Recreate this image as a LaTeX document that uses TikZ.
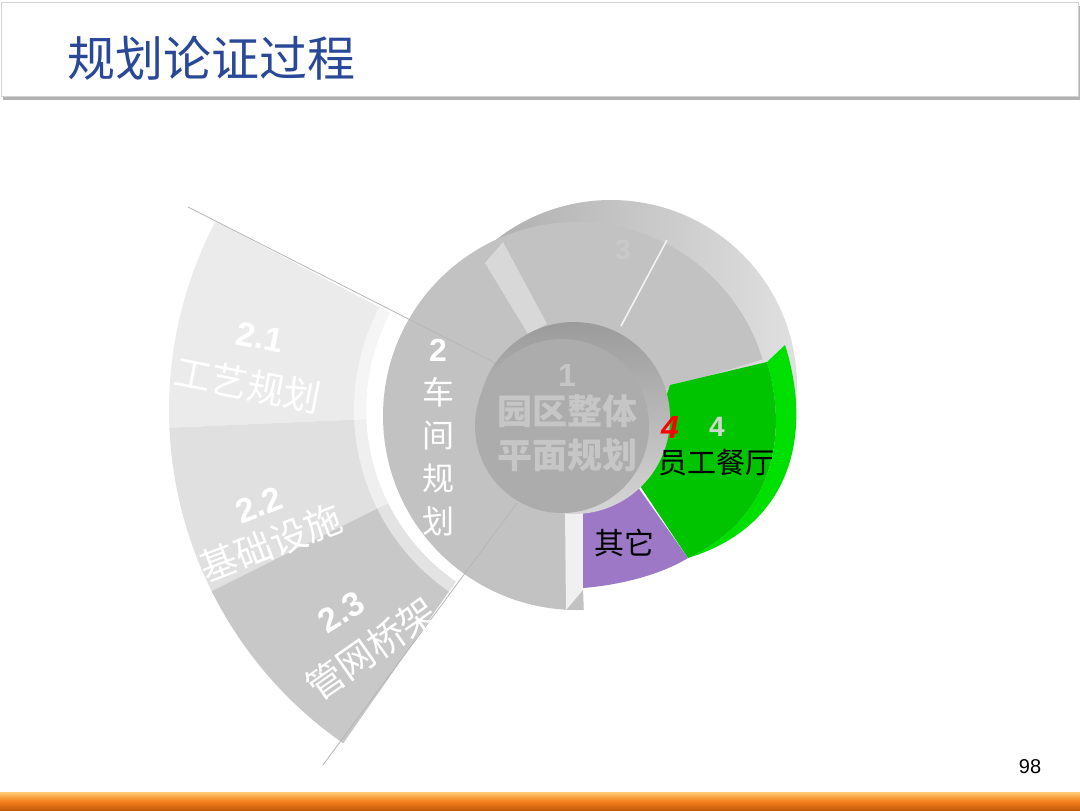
\documentclass[tikz,border=0pt]{standalone}
\usepackage{fontspec}
\newfontfamily\cjk{Noto Sans CJK SC}
\newfontfamily\arial{Liberation Sans}
\newcommand\fsz[1]{\fontsize{#1}{#1}\selectfont}

\definecolor{titleblue}{RGB}{41,72,152}
\definecolor{fanA}{RGB}{235,235,235}
\definecolor{fanB}{RGB}{224,224,224}
\definecolor{fanC}{RGB}{200,200,200}
\definecolor{faceg}{RGB}{194,194,194}
\definecolor{rimdark}{RGB}{165,165,165}
\definecolor{rimlight}{RGB}{224,224,224}
\definecolor{hubface}{RGB}{172,172,172}
\definecolor{hubtop}{RGB}{155,155,155}
\definecolor{hubbot}{RGB}{214,214,214}
\definecolor{hubtext}{RGB}{198,198,198}
\definecolor{stripg}{RGB}{216,216,216}
\definecolor{greenface}{RGB}{0,196,0}
\definecolor{greenrim}{RGB}{0,224,0}
\definecolor{lilac}{RGB}{156,120,198}
\definecolor{divline}{RGB}{182,182,182}
\definecolor{numgray}{RGB}{205,215,205}
\definecolor{faint}{RGB}{201,201,201}
\definecolor{orangetop}{RGB}{255,205,120}
\definecolor{orangemid}{RGB}{246,130,30}
\definecolor{orangebot}{RGB}{196,90,10}

\tikzset{
  fanlbl/.style={text=white, font=\cjk\fsz{18.5pt}, inner sep=0pt},
  fannum/.style={text=white, font=\arial\bfseries\fsz{17pt}, inner sep=0pt},
  hublbl/.style={text=hubtext, font=\cjk\bfseries\fsz{17.5pt}, inner sep=0pt},
  darklbl/.style={text=black, font=\cjk\fsz{14.5pt}, inner sep=0pt},
  divider/.style={draw=divline, line width=0.4pt},
}

\begin{document}
\begin{tikzpicture}[x=0.5pt,y=-0.5pt]
  \useasboundingbox (0,0) rectangle (1080,810);
  \fill[white] (0,0) rectangle (1080,810);
  \fill[gray!60] (3,6) rectangle (1080,100);
  \filldraw[draw=gray!35, fill=white] (1,2) rectangle (1078,96);
  \node[font=\cjk\fsz{24pt}, text=titleblue, inner sep=0pt] (title) at (211,58) {规划论证过程};
  \shade[top color=orangetop, bottom color=orangebot, middle color=orangemid] (0,792) rectangle (1080,810);
  \node[font=\arial\fsz{10pt}, inner sep=0pt] (pageno) at (1030,767) {98};

  \begin{scope}[shift={(575,410)}]
    \fill[fanA] (-152.3:209) -- (-152.3:406) arc[start angle=-152.3, end angle=-182.5, radius=406] -- (-182.5:209) arc[start angle=-182.5, end angle=-152.3, radius=209] -- cycle;
    \fill[fanB] (-182.5:209) -- (-182.5:406) arc[start angle=-182.5, end angle=-206.5, radius=406] -- (-206.5:209) arc[start angle=-206.5, end angle=-182.5, radius=209] -- cycle;
    \fill[fanC] (-206.5:209) -- (-206.5:406) arc[start angle=-206.5, end angle=-235.2, radius=406] -- (-235.2:209) arc[start angle=-235.2, end angle=-206.5, radius=209] -- cycle;
    \fill[white, opacity=0.5] (-152.3:209) arc[start angle=-152.3, end angle=-235.2, radius=209] -- (-235.2:221) arc[start angle=-235.2, end angle=-152.3, radius=221] -- cycle;
  \end{scope}

  \begin{scope}
    \clip (380,190) rectangle (820,425);
    \shade[left color=rimdark, right color=rimlight] (611,386) circle[radius=186];
  \end{scope}
  \fill[faceg] (577,416) -- ++(88:194) arc[start angle=88, end angle=343, radius=194] -- cycle;
  \fill[stripg] (485,263) -- (503,242) -- (547,324) -- (528,334) -- cycle;
  \fill[white!88!gray] (565,512) -- (583,512) -- (583,590) -- (566,610) -- cycle;

  \coordinate (ulA) at (188,207);
  \coordinate (ulB) at (507,369);
  \coordinate (llA) at (323,765);
  \coordinate (llB) at (517,503);
  \coordinate (urA) at (667,240);
  \coordinate (urB) at (621,326);
  \draw[divider] (ulA) -- (ulB);
  \draw[divider] (llA) -- (llB);
  \draw[draw=white!90!gray, line width=0.8pt] (urA) -- (urB);

  \fill[greenrim] (767,362) -- (785,345) .. controls (812,430) and (795,525) .. (688,558) .. controls (770,520) and (790,440) .. (767,362) -- cycle;
  \fill[greenface] (670,385) -- (767,362) .. controls (790,440) and (770,520) .. (688,558) -- (638,483) -- cycle;
  \fill[lilac] (583,513) -- (583,588) .. controls (620,585) and (660,575) .. (688,558) -- (635,483) -- cycle;

  \shade[top color=hubtop, bottom color=hubbot] (574,418) circle[radius=96];
  \fill[hubface] (562,426) circle[radius=87];

  \node[hublbl, font=\arial\bfseries\fsz{16pt}] (hubnum) at (567,375) {1};
  \node[hublbl] (hubA) at (567,411) {园区整体};
  \node[hublbl] (hubB) at (567,455) {平面规划};
  \node[text=faint, font=\arial\bfseries\fsz{14pt}, inner sep=0pt] (segthree) at (623,250) {3};

  \node[text=white, font=\cjk\fontsize{16pt}{21.5pt}\selectfont, align=center, inner sep=0pt] (workshop) at (438,438) {{\arial\bfseries 2}\\车\\间\\规\\划};

  \node[fannum, rotate=-11] (n21) at (260,337) {2.1};
  \node[fanlbl, rotate=-11] (t21) at (248,385) {工艺规划};
  \node[fannum, rotate=21] (n22) at (259,505) {2.2};
  \node[fanlbl, rotate=21] (t22) at (271,543) {基础设施};
  \node[fannum, rotate=32] (n23) at (341,612) {2.3};
  \node[fanlbl, rotate=35] (t23) at (371,649) {管网桥架};

  \node[font=\arial\bfseries\itshape\fsz{16pt}, text=red, inner sep=0pt] (redfour) at (670,427) {4};
  \node[font=\arial\bfseries\fsz{14pt}, text=numgray, inner sep=0pt] (segfour) at (717,427) {4};
  \node[darklbl] (canteen) at (716,463) {员工餐厅};
  \node[darklbl, font=\cjk\fsz{15pt}] (other) at (624,543) {其它};
\end{tikzpicture}
\end{document}
